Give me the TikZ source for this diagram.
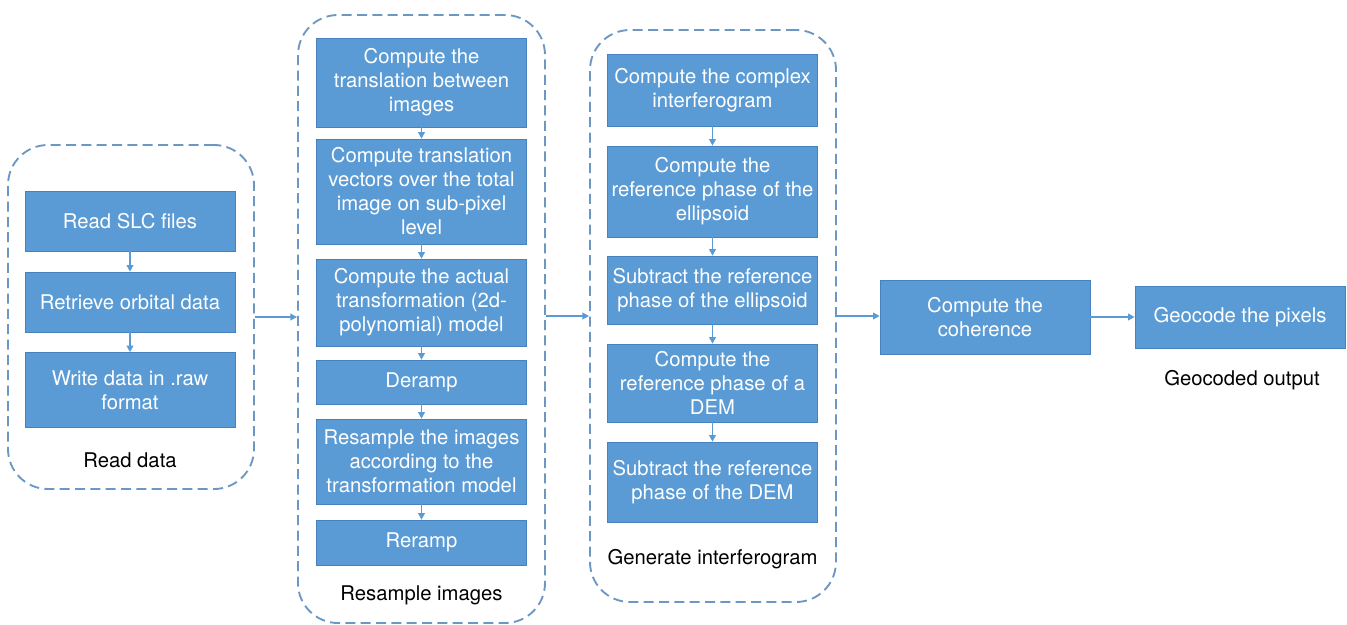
\documentclass[tikz,border=0pt]{standalone}
\usepackage{fontspec}
\setmainfont{TeX Gyre Heros}
\usetikzlibrary{arrows.meta}
\definecolor{boxblue}{RGB}{91,155,213}
\definecolor{boxedge}{RGB}{72,130,190}
\definecolor{grpblue}{RGB}{108,150,196}
\begin{document}
\begin{tikzpicture}[x=0.75pt,y=-0.75pt,>={Triangle[length=5pt,width=5pt]},
 box/.style={fill=boxblue,draw=boxedge,line width=0.4pt,text=white,align=center,minimum width=157.5pt,inner sep=2pt,font=\fontsize{15.2}{18}\selectfont},
 grp/.style={draw=grpblue,line width=1.4pt,dash pattern=on 7.5pt off 4pt,rounded corners=30pt},
 lbl/.style={font=\fontsize{15.2}{18}\selectfont},
 link/.style={->,draw=boxblue,line width=1.3pt}]
 \useasboundingbox (0,0) rectangle (1347,625);
 % Read data
 \node[grp,minimum width=184.5pt,minimum height=258pt] (rg) at (131,317) {};
 \node[box,minimum height=45pt] (r1) at (130,221) {Read SLC files};
 \node[box,minimum height=45pt] (r2) at (130,302) {Retrieve orbital data};
 \node[box,minimum height=56.25pt] (r3) at (130,390) {Write data in .raw\\format};
 \node[lbl] (rl) at (130,460) {Read data};
 % Resample images
 \node[grp,minimum width=185.25pt,minimum height=456pt] (sg) at (421.5,319) {};
 \node[box,minimum height=66.75pt] (s1) at (421.5,82.5) {Compute the\\translation between\\images};
 \node[box,minimum height=78.75pt] (s2) at (421.5,191.5) {Compute translation\\vectors over the total\\image on sub-pixel\\level};
 \node[box,minimum height=65.25pt] (s3) at (421.5,302.5) {Compute the actual\\transformation (2d-\\polynomial) model};
 \node[box,minimum height=33pt] (s4) at (421.5,382) {Deramp};
 \node[box,minimum height=63.75pt] (s5) at (421.5,461.5) {Resample the images\\according to the\\transformation model};
 \node[box,minimum height=33.75pt] (s6) at (421.5,542.5) {Reramp};
 \node[lbl] (sl) at (421.5,595) {Resample images};
 % Generate interferogram
 \node[grp,minimum width=184.5pt,minimum height=429pt] (gg) at (713,316) {};
 \node[box,minimum height=54pt] (g1) at (712.5,90) {Compute the complex\\interferogram};
 \node[box,minimum height=68.25pt] (g2) at (712.5,191.5) {Compute the\\reference phase of the\\ellipsoid};
 \node[box,minimum height=51pt] (g3) at (712.5,290) {Subtract the reference\\phase of the ellipsoid};
 \node[box,minimum height=58.5pt] (g4) at (712.5,383) {Compute the\\reference phase of a\\DEM};
 \node[box,minimum height=60pt] (g5) at (712.5,482) {Subtract the reference\\phase of the DEM};
 \node[lbl] (gl) at (712.5,559) {Generate interferogram};
 % Coherence and geocoding
 \node[box,minimum height=55.5pt] (c1) at (985,317) {Compute the\\coherence};
 \node[box,minimum height=46.5pt] (geo) at (1240,317) {Geocode the pixels};
 \node[lbl] (geol) at (1242,380) {Geocoded output};
 % connectors
 \foreach \a/\b in {r1/r2,r2/r3,s1/s2,s2/s3,s3/s4,s4/s5,s5/s6,g1/g2,g2/g3,g3/g4,g4/g5}
  \draw[link] (\a) -- (\b);
 \draw[link] (rg.east) -- (rg.east -| sg.west);
 \draw[link] (sg.east |- gg.west) -- (gg.west);
 \draw[link] (gg.east) -- (gg.east -| c1.west);
 \draw[link] (c1.east) -- (geo.west);
\end{tikzpicture}
\end{document}
